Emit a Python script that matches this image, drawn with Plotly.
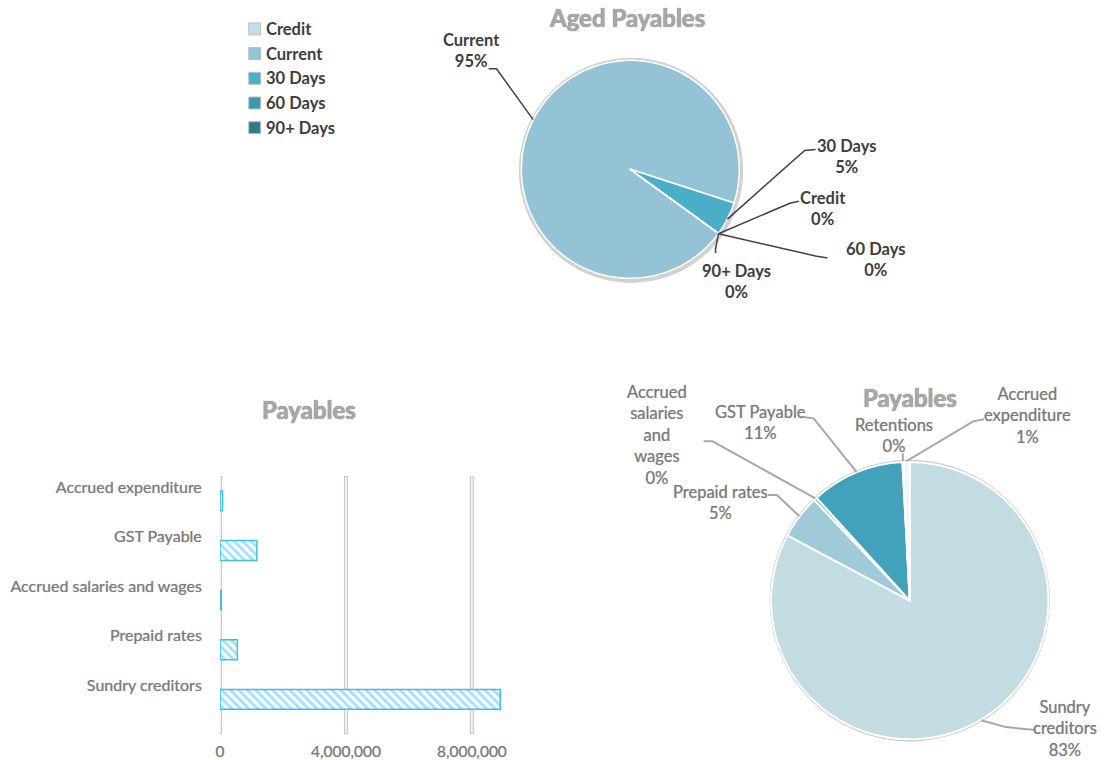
import math
import plotly.graph_objects as go

W, H = 1106, 760

# ---------------- data ----------------
aged_labels = ["Credit", "Current", "30 Days", "60 Days", "90+ Days"]
aged_values = [0, 95, 5, 0, 0]
aged_colors = ["#c3dee8", "#93c3d4", "#4aaec8", "#3a98b0", "#2e7a8e"]

pay_labels = ["Sundry creditors", "Prepaid rates", "Accrued salaries and wages",
              "GST Payable", "Retentions", "Accrued expenditure"]
pay_values = [8900000, 550000, 40000, 1170000, 10000, 80000]
pay_colors = ["#c3dce4", "#9fcad8", "#6fb5ca", "#42a1bb", "#d4e7ee", "#eef6f8"]

bar_labels = ["Sundry creditors", "Prepaid rates", "Accrued salaries and wages",
              "GST Payable", "Accrued expenditure"]
bar_values = [8900000, 550000, 40000, 1170000, 80000]
bar_ticks = [0, 4000000, 8000000]

FONT = "Lato"


def px(x):
    return x / W


def py(y):
    return 1 - y / H


fig = go.Figure()
shapes = []
annotations = []

# ---------------- top pie: Aged Payables ----------------
top_c, top_r, top_rot = (631, 170), 110, 126
fig.add_trace(go.Pie(
    labels=aged_labels, values=aged_values, sort=False, direction="clockwise",
    rotation=top_rot, textinfo="none", showlegend=False,
    marker=dict(colors=aged_colors, line=dict(color="white", width=1.5)),
    domain=dict(x=[px(top_c[0] - top_r), px(top_c[0] + top_r)],
                y=[py(top_c[1] + top_r), py(top_c[1] - top_r)]),
))
shapes.append(dict(type="circle", xref="paper", yref="paper", layer="below",
                   x0=px(top_c[0] - top_r - 2.5), x1=px(top_c[0] + top_r + 4),
                   y0=py(top_c[1] + top_r + 4), y1=py(top_c[1] - top_r - 2),
                   fillcolor="#d2d2d2", line=dict(width=0)))


def rim_points(values, center, r, rot):
    tot = sum(values)
    pts = []
    cum = 0
    for v in values:
        mid = rot + (cum + v / 2) / tot * 360
        a = math.radians(mid)
        pts.append((center[0] + r * math.sin(a), center[1] - r * math.cos(a)))
        cum += v
    return pts


def pct_text(values):
    tot = sum(values)
    return [f"{round(v / tot * 100)}%" for v in values]


aged_pts = rim_points(aged_values, top_c, top_r, top_rot)
aged_pct = pct_text(aged_values)
# label layout positions (pixel centre of label, label-side elbow start, knee)
aged_label_layout = {
    "Current": ((471, 51), (488, 69), (496, 69)),
    "30 Days": ((849, 157), (818, 150), (807, 151)),
    "Credit": ((825, 209), (801, 202), (792, 204)),
    "60 Days": ((878, 261), (830, 259), (818, 257)),
    "90+ Days": ((738, 283), (717, 254), (717, 250)),
}
for lab, pt, pc in zip(aged_labels, aged_pts, aged_pct):
    (cx, cy), s, k = aged_label_layout[lab]
    annotations.append(dict(x=px(cx), y=py(cy), xref="paper", yref="paper",
                            text=f"<b>{lab}<br>{pc}</b>", showarrow=False,
                            font=dict(family=FONT, size=16.5, color="#3d3d3d"),
                            xanchor="center", yanchor="middle", align="center"))
    shapes.append(dict(type="path", xref="paper", yref="paper", layer="above",
                       path=f"M {px(s[0])} {py(s[1])} L {px(k[0])} {py(k[1])} L {px(pt[0])} {py(pt[1])}",
                       line=dict(color="#404040", width=1.5)))

annotations.append(dict(x=px(628), y=py(18), xref="paper", yref="paper",
                        text="<b>Aged Payables</b>", showarrow=False,
                        font=dict(family=FONT, size=24, color="#a8a8a8",
                                  shadow="0px 0px 1px #555"),
                        xanchor="center", yanchor="middle"))

# manual legend
for i, (lab, col) in enumerate(zip(aged_labels, aged_colors)):
    yc = 29 + i * 24.8
    shapes.append(dict(type="rect", xref="paper", yref="paper",
                       x0=px(246), x1=px(258), y0=py(yc + 6), y1=py(yc - 6),
                       fillcolor=col, line=dict(color="#bdbdbd", width=1)))
    annotations.append(dict(x=px(261), y=py(yc), xref="paper", yref="paper",
                            text=f"<b>{lab}</b>", showarrow=False,
                            font=dict(family=FONT, size=16.5, color="#3d3d3d"),
                            xanchor="left", yanchor="middle"))

# ---------------- bottom pie: Payables ----------------
bot_c, bot_r, bot_rot = (913, 603), 140, 0
fig.add_trace(go.Pie(
    labels=pay_labels, values=pay_values, sort=False, direction="clockwise",
    rotation=bot_rot, textinfo="none", showlegend=False,
    marker=dict(colors=pay_colors, line=dict(color="white", width=2)),
    domain=dict(x=[px(bot_c[0] - bot_r), px(bot_c[0] + bot_r)],
                y=[py(bot_c[1] + bot_r), py(bot_c[1] - bot_r)]),
))
shapes.append(dict(type="circle", xref="paper", yref="paper", layer="below",
                   x0=px(bot_c[0] - bot_r - 1.5), x1=px(bot_c[0] + bot_r + 1.5),
                   y0=py(bot_c[1] + bot_r + 1.5), y1=py(bot_c[1] - bot_r - 1.5),
                   fillcolor="#c9c9c9", line=dict(width=0)))

pay_pts = rim_points(pay_values, bot_c, bot_r, bot_rot)
pay_pct = pct_text(pay_values)
pay_label_layout = {
    "Sundry creditors": ("Sundry<br>creditors", (1070, 731), (1040, 733), (1010, 730)),
    "Prepaid rates": ("Prepaid rates", (722, 504), (770, 497), (779, 497)),
    "Accrued salaries and wages": ("Accrued<br>salaries<br>and<br>wages", (658, 437), (705, 443), (714, 443)),
    "GST Payable": ("GST Payable", (762, 424), (807, 419), (816, 420)),
    "Retentions": ("Retentions", (897, 437), (906, 455), (906, 457)),
    "Accrued expenditure": ("Accrued<br>expenditure", (1032, 417), (988, 421), (977, 423)),
}
for lab, pt, pc in zip(pay_labels, pay_pts, pay_pct):
    txt, (cx, cy), s, k = pay_label_layout[lab]
    annotations.append(dict(x=px(cx), y=py(cy), xref="paper", yref="paper",
                            text=f"{txt}<br>{pc}", showarrow=False,
                            font=dict(family=FONT, size=16.5, color="#7a7a7a",
                                      shadow="0px 0px 1px #aaa"),
                            xanchor="center", yanchor="middle", align="center"))
    shapes.append(dict(type="path", xref="paper", yref="paper", layer="above",
                       path=f"M {px(s[0])} {py(s[1])} L {px(k[0])} {py(k[1])} L {px(pt[0])} {py(pt[1])}",
                       line=dict(color="#a8a8a8", width=2)))

annotations.append(dict(x=px(913), y=py(399), xref="paper", yref="paper",
                        text="<b>Payables</b>", showarrow=False,
                        font=dict(family=FONT, size=24, color="#a8a8a8",
                                  shadow="0px 0px 1px #555"),
                        xanchor="center", yanchor="middle"))

# ---------------- bar chart: Payables ----------------
ypos = list(range(len(bar_labels)))
# grid lines (grey outline with white centre), drawn beneath the bars
for t in bar_ticks:
    shapes.append(dict(type="line", xref="x", yref="paper", layer="below",
                       x0=t, x1=t, y0=py(737), y1=py(478),
                       line=dict(color="#c8c8c8", width=4)))
    shapes.append(dict(type="line", xref="x", yref="paper", layer="below",
                       x0=t, x1=t, y0=py(736), y1=py(479),
                       line=dict(color="white", width=1.5)))

fig.add_trace(go.Bar(
    x=bar_values, y=ypos, orientation="h", width=0.4, showlegend=False,
    marker=dict(color="white", line=dict(color="#3dbfe9", width=1.5),
                pattern=dict(shape="\\", fgcolor="#4ec3ee", bgcolor="white",
                             size=6, solidity=0.5)),
))

fig.update_xaxes(domain=[px(217), px(501)], range=[0, 8940000],
                 tickvals=bar_ticks, tickformat=",d", showgrid=False,
                 zeroline=False, showline=False,
                 ticks="outside", ticklen=3, tickcolor="rgba(0,0,0,0)",
                 tickfont=dict(family=FONT, size=15.5, color="#7a7a7a",
                               shadow="0px 0px 1px #aaa"),
                 fixedrange=True)
fig.update_yaxes(domain=[py(737), py(478)], range=[-0.7, 4.5],
                 tickvals=[i + 0.28 for i in ypos], ticktext=bar_labels,
                 showgrid=False, zeroline=False, showline=False,
                 ticks="outside", ticklen=14, tickcolor="rgba(0,0,0,0)",
                 tickfont=dict(family=FONT, size=16, color="#7a7a7a",
                               shadow="0px 0px 1px #aaa"),
                 fixedrange=True)

annotations.append(dict(x=px(307), y=py(411), xref="paper", yref="paper",
                        text="<b>Payables</b>", showarrow=False,
                        font=dict(family=FONT, size=24, color="#a8a8a8",
                                  shadow="0px 0px 1px #555"),
                        xanchor="center", yanchor="middle"))

fig.update_layout(
    width=W, height=H, margin=dict(l=0, r=0, t=0, b=0),
    paper_bgcolor="white", plot_bgcolor="white",
    shapes=shapes, annotations=annotations, showlegend=False,
    font=dict(family=FONT),
)

fig.write_html("out.html")
